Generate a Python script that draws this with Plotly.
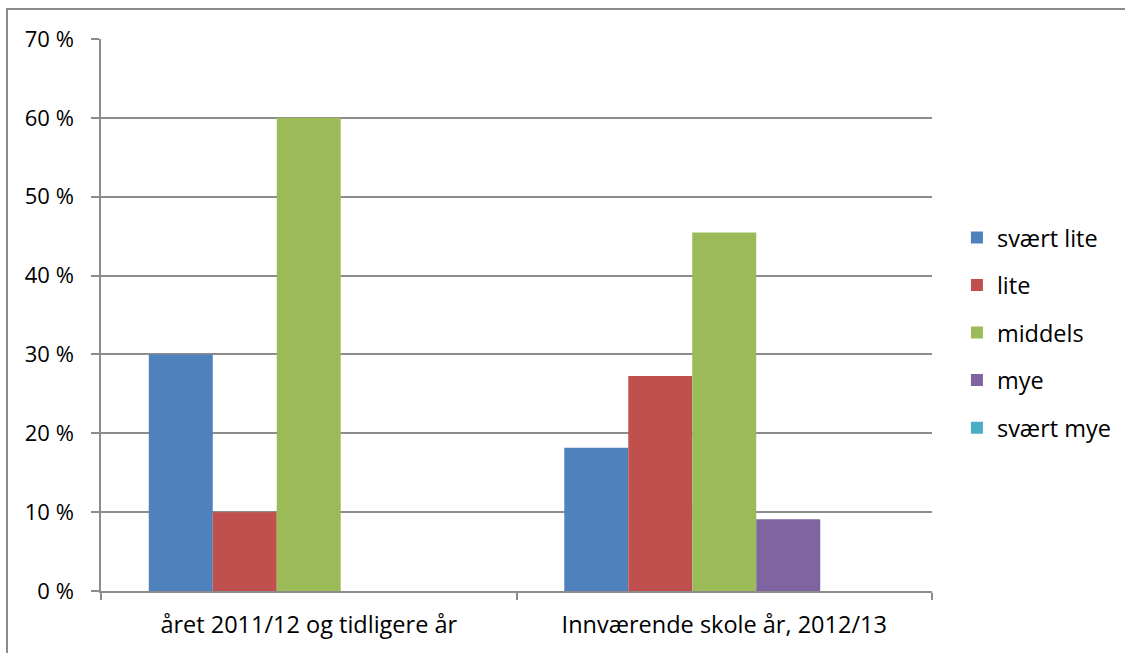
import plotly.graph_objects as go

categories = ["året 2011/12 og tidligere år", "Innværende skole år, 2012/13"]
series_names = ["svært lite", "lite", "middels", "mye", "svært mye"]
series_values = [
    [30.0, 18.18],
    [10.0, 27.27],
    [60.0, 45.45],
    [0.0, 9.09],
    [0.0, 0.0],
]
colors = ["#4F81BD", "#C0504D", "#9BBB59", "#8064A2", "#4BACC6"]
y_ticks = [0, 10, 20, 30, 40, 50, 60, 70]
y_tick_labels = [f"{v} %" for v in y_ticks]

font_family = "'Open Sans', sans-serif"
grid_color = "#8c8c8c"

fig = go.Figure()
for name, vals, col in zip(series_names, series_values, colors):
    fig.add_trace(go.Bar(
        x=categories, y=vals, name=name, legendgroup=name,
        marker=dict(color=col, line=dict(width=0)),
    ))

# outer chart border (right/bottom edges fall outside the picture)
fig.add_shape(type="rect", xref="paper", yref="paper",
              x0=-0.1131, x1=1.5, y0=-0.2, y1=1.0543,
              line=dict(color="#8c8c8c", width=2), layer="below")

# page is wider than the window on purpose: the extra strip is clipped,
# so the legend doesn't squeeze the plot area
fig.update_layout(
    width=1165, height=653,
    margin=dict(l=101, r=233, t=39, b=62),
    paper_bgcolor="white", plot_bgcolor="white",
    barmode="group", bargap=0.23, bargroupgap=0,
    font=dict(family=font_family, size=23, color="#000000"),
    showlegend=True,
    legend=dict(x=1.030, y=0.468, xanchor="left", yanchor="middle",
                traceorder="grouped", tracegroupgap=14,
                font=dict(size=23.5), itemwidth=30),
    xaxis=dict(
        showline=True, linecolor=grid_color, linewidth=1.5,
        ticks="outside", tickson="boundaries", ticklen=7,
        tickcolor=grid_color, tickwidth=1.5, showgrid=False,
        ticklabelstandoff=12, tickfont=dict(size=23.5),
    ),
    yaxis=dict(
        range=[0, 70], tickvals=y_ticks, ticktext=y_tick_labels,
        showline=True, linecolor=grid_color, linewidth=1.5,
        ticks="outside", ticklen=8, tickcolor=grid_color, tickwidth=1.5,
        showgrid=True, gridcolor=grid_color, gridwidth=1.5,
        zeroline=False, ticklabelstandoff=13, tickfont=dict(size=22),
    ),
)

fig.write_html("out.html",
               config={"displayModeBar": False},
               post_script="document.body.style.margin='0';"
                           "document.body.style.overflow='hidden';"
                           "document.documentElement.style.overflow='hidden';")
